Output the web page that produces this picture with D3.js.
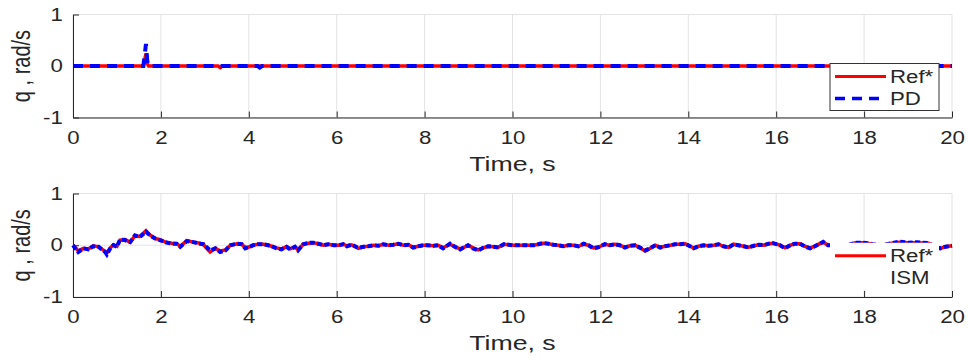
<!DOCTYPE html>
<html>
<head>
<meta charset="utf-8">
<script src="https://cdn.jsdelivr.net/npm/d3@7"></script>
<style>
  body { margin: 0; background: #fff; }
  svg text { font-family: "Liberation Sans", Arial, sans-serif; fill: #262626; }
</style>
</head>
<body>
<div id="chart"></div>
<script>
// top panel (PD)
const tA   = [0, 1.6, 1.63, 1.66, 1.69, 1.72, 3.3, 3.35, 3.4, 4.2, 4.25, 4.3, 20];
const refA = [0, 0, 0.1, 0.24, 0.05, 0, 0, -0.03, 0, 0, 0, 0, 0];
const pdA  = [0, 0, 0.2, 0.43, 0.1, 0, 0, 0, 0, 0, -0.03, 0, 0];

// bottom panel (ISM)
const tB = [
  0.00, 0.12, 0.24, 0.35, 0.46, 0.58, 0.65, 0.73, 0.77, 0.85, 0.92, 1.00, 1.07, 1.18, 1.30, 1.41, 1.52, 1.66, 1.75, 1.87,
  1.98, 2.10, 2.25, 2.36, 2.44, 2.59, 2.74, 2.89, 2.97, 3.12, 3.24, 3.35, 3.47, 3.58, 3.73, 3.84, 3.92, 4.02, 4.10, 4.21,
  4.33, 4.44, 4.52, 4.63, 4.74, 4.86, 4.94, 5.05, 5.12, 5.24, 5.35, 5.47, 5.58, 5.70, 5.81, 5.93, 6.04, 6.15, 6.23, 6.34,
  6.49, 6.61, 6.72, 6.84, 6.95, 7.06, 7.18, 7.29, 7.40, 7.52, 7.63, 7.74, 7.86, 7.97, 8.05, 8.20, 8.31, 8.42, 8.58, 8.69,
  8.81, 8.92, 8.99, 9.10, 9.22, 9.33, 9.45, 9.56, 9.68, 9.80, 9.91, 10.02, 10.14, 10.25, 10.36, 10.48, 10.59, 10.70, 10.82, 10.93,
  11.04, 11.16, 11.27, 11.39, 11.50, 11.62, 11.73, 11.84, 11.95, 12.10, 12.21, 12.33, 12.44, 12.56, 12.67, 12.79, 12.90, 13.02, 13.13, 13.25,
  13.36, 13.47, 13.59, 13.70, 13.82, 13.93, 14.04, 14.12, 14.23, 14.35, 14.46, 14.58, 14.69, 14.80, 14.92, 15.03, 15.14, 15.26, 15.37, 15.49,
  15.60, 15.72, 15.83, 15.93, 16.09, 16.20, 16.32, 16.43, 16.54, 16.65, 16.77, 16.88, 16.99, 17.07, 17.18, 17.40, 17.60, 17.80, 18.00, 18.20,
  18.40, 18.63, 18.80, 19.00, 19.20, 19.47, 19.60, 19.73, 19.85, 20.00
];
const refB = [
  0, -0.11, -0.06, -0.07, -0.01, -0.03, -0.07, -0.12, -0.15, -0.05, 0.01, -0.02, 0.10, 0.11, 0.06, 0.18, 0.17, 0.28, 0.20, 0.13,
  0.11, 0.06, 0.04, 0.03, -0.02, 0.09, 0.06, 0.04, 0.01, -0.13, -0.06, -0.11, -0.09, 0, 0.03, 0.02, -0.05, -0.03, 0, 0.02,
  0.02, 0, -0.02, -0.05, -0.07, -0.03, -0.07, -0.03, -0.09, 0.02, 0.04, 0.05, 0.03, 0, 0.02, 0, 0, 0.02, -0.01, 0.01,
  -0.06, -0.03, -0.02, 0, -0.01, 0.02, 0, 0.01, 0.03, 0, 0.01, -0.04, -0.02, 0, 0, -0.01, 0, -0.05, 0.02, -0.03,
  -0.07, -0.03, 0, -0.05, -0.09, -0.05, -0.02, -0.03, -0.04, 0.02, 0.01, 0, 0, 0, 0, 0, 0.02, 0.04, 0.03, 0.01,
  0, -0.02, 0, 0, -0.02, 0.02, 0, -0.05, -0.04, 0.02, 0, 0.02, 0, -0.04, -0.01, 0, -0.05, -0.11, -0.06, 0,
  -0.04, -0.02, 0, 0.02, 0.02, 0.03, -0.02, -0.05, -0.02, 0, -0.01, 0, 0.02, -0.02, -0.04, 0.02, 0, -0.02, -0.04, -0.01,
  0.01, 0, 0.03, 0.04, 0, -0.05, 0, 0.03, 0.03, -0.02, -0.05, -0.02, 0.03, 0.06, 0, 0, -0.01, 0.05, 0.05, 0.02,
  0, 0.04, 0.06, 0.05, 0.05, 0.04, -0.02, -0.06, -0.03, -0.01
];
const ismB = [
  0, -0.13, -0.06, -0.08, -0.02, -0.03, -0.08, -0.13, -0.18, -0.06, 0, -0.03, 0.11, 0.10, 0.06, 0.19, 0.16, 0.26, 0.19, 0.13,
  0.10, 0.06, 0.03, 0.03, -0.03, 0.08, 0.06, 0.03, 0.02, -0.10, -0.06, -0.13, -0.10, 0, 0.03, 0.02, -0.06, -0.03, 0, 0.02,
  0.02, 0, -0.02, -0.06, -0.08, -0.03, -0.08, -0.03, -0.10, 0.02, 0.045, 0.05, 0.03, 0, 0.02, 0, 0, 0.02, -0.02, 0.01,
  -0.05, -0.03, -0.02, 0, -0.01, 0.02, 0, 0.01, 0.03, 0, 0.01, -0.045, -0.02, 0, 0, -0.01, 0, -0.06, 0.03, -0.03,
  -0.08, -0.03, 0, -0.06, -0.10, -0.05, -0.02, -0.03, -0.045, 0.02, 0.01, 0, 0, 0, 0, 0, 0.02, 0.045, 0.03, 0.01,
  0, -0.02, 0, 0, -0.02, 0.03, 0, -0.06, -0.04, 0.02, 0, 0.02, 0, -0.045, -0.01, 0, -0.045, -0.10, -0.06, 0,
  -0.045, -0.02, 0, 0.02, 0.02, 0.03, -0.02, -0.06, -0.02, 0, -0.01, 0, 0.02, -0.02, -0.045, 0.02, 0, -0.02, -0.045, -0.01,
  0.01, 0, 0.03, 0.04, 0, -0.06, 0, 0.03, 0.03, -0.02, -0.06, -0.02, 0.03, 0.065, 0, 0, -0.01, 0.05, 0.05, 0.02,
  0, 0.04, 0.07, 0.05, 0.06, 0.04, -0.02, -0.06, -0.03, -0.01
];

const xTicks = d3.range(0, 21, 2);
const yTicks = [-1, 0, 1];

const W = 968, H = 358;
const sx = 1.27; // the source figure is a bit wider than tall, text looks stretched
const svg = d3.select('#chart').append('svg')
  .attr('width', W)
  .attr('height', H);

const x = d3.scaleLinear().domain([0, 20]).range([73, 952]);

// plain text at (px, py), stretched horizontally like the source
function label(g, px, py, str, size, anchor) {
  return g.append('text')
    .attr('transform', `translate(${px},${py}) scale(${sx},1)`)
    .attr('text-anchor', anchor || 'start')
    .style('font-size', size + 'px')
    .text(str);
}

function panel(top, bottom, t, redVals, blueVals, blueDash, labels, boxed) {
  let y = d3.scaleLinear().domain([-1, 1]).range([bottom, top]);
  let g = svg.append('g');

  // grid
  g.selectAll('.gx').data(xTicks).enter().append('line')
    .attr('x1', d => x(d)).attr('x2', d => x(d))
    .attr('y1', top).attr('y2', bottom)
    .attr('stroke', '#e3e3e3').attr('stroke-width', 1);
  g.selectAll('.gy').data(yTicks).enter().append('line')
    .attr('x1', x(0)).attr('x2', x(20))
    .attr('y1', d => y(d)).attr('y2', d => y(d))
    .attr('stroke', '#e3e3e3').attr('stroke-width', 1);

  // axes, ticks pointing inward
  let xAxis = d3.axisBottom(x).tickValues(xTicks).tickSizeInner(-6).tickSizeOuter(0).tickPadding(14);
  let yAxis = d3.axisLeft(y).tickValues(yTicks).tickSizeInner(-6).tickSizeOuter(0).tickPadding(8).tickFormat(d3.format('d'));

  let ax = g.append('g').attr('transform', `translate(0,${bottom})`).call(xAxis);
  let ay = g.append('g').attr('transform', `translate(${x(0)},0)`).call(yAxis);
  [ax, ay].forEach(a => {
    a.select('.domain').attr('stroke', '#262626');
    a.selectAll('.tick line').attr('stroke', '#262626');
    a.selectAll('.tick text').style('font-size', '17.5px').attr('fill', '#262626')
      .style('font-family', '"Liberation Sans", Arial, sans-serif')
      .attr('transform', `scale(${sx},1)`);
  });
  ay.selectAll('.tick text').text(d => d < 0 ? '-' + Math.abs(d) : d);

  // data
  let pts = (vals) => t.map((d, i) => [d, vals[i]]);
  let line = d3.line().x(d => x(d[0])).y(d => y(d[1]));

  g.append('path').datum(pts(redVals))
    .attr('d', line).attr('fill', 'none')
    .attr('stroke', '#ff0000').attr('stroke-width', 3.5);
  g.append('path').datum(pts(blueVals))
    .attr('d', line).attr('fill', 'none')
    .attr('stroke', '#0000ff').attr('stroke-width', 4)
    .attr('stroke-dasharray', blueDash);

  // labels
  label(g, (x(0) + x(20)) / 2, bottom + 53, 'Time, s', 21, 'middle');
  g.append('text')
    .attr('transform', `translate(30,${(top + bottom) / 2}) scale(${sx},1) rotate(-90)`)
    .attr('text-anchor', 'middle').style('font-size', '20px')
    .text('q , rad/s');

  // legend
  let lg = g.append('g').attr('transform', `translate(830,${y(0) - 2.5})`);
  lg.append('rect')
    .attr('width', 109).attr('height', 47)
    .attr('fill', '#fff')
    .attr('stroke', boxed ? '#333' : 'none').attr('stroke-width', 1);
  lg.append('line')
    .attr('x1', 5).attr('x2', 56).attr('y1', 13).attr('y2', 13)
    .attr('stroke', '#ff0000').attr('stroke-width', 3);
  if (boxed) {
    lg.append('line')
      .attr('x1', 5).attr('x2', 56).attr('y1', 35).attr('y2', 35)
      .attr('stroke', '#0000ff').attr('stroke-width', 3.5)
      .attr('stroke-dasharray', '10,7');
  }
  labels.forEach((d, i) => label(lg, 60, 19.5 + i * 22, d, 17.5));
}

panel(14.5, 117.5, tA, refA, pdA, '10,7', ['Ref*', 'PD'], true);
panel(193.5, 297, tB, refB, ismB, '5,2.5', ['Ref*', 'ISM'], false);
</script>
</body>
</html>
